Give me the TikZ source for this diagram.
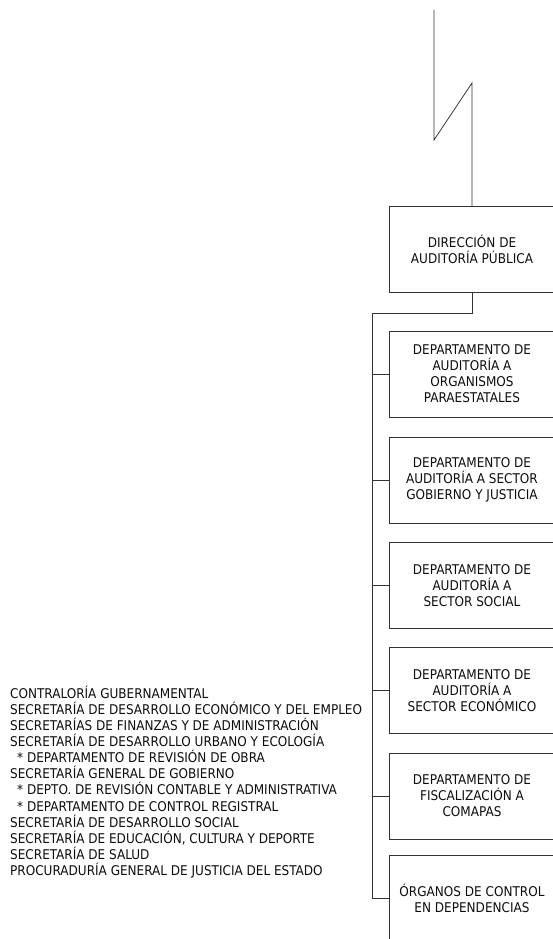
\documentclass[tikz,border=0pt]{standalone}
\usepackage{fontspec}
\setmainfont{DejaVu Sans Condensed}
\usepackage{tikz}

\begin{document}
\begin{tikzpicture}[x=1pt, y=-1pt,
    unidad/.style ={rectangle, draw=black!80, line width=0.8pt, minimum width=166pt,
      minimum height=86pt, align=center, text=black!95, inner sep=0pt,
      font=\fontsize{13.4}{16}\selectfont},
    linea/.style ={draw=black!80, line width=0.8pt}]
   \clip (0,0) rectangle (553,939);

   \node[unidad] (D) at (472,249.5) {DIRECCIÓN DE\\AUDITORÍA PÚBLICA};
   \node[unidad] (B1) at (472,374)  {DEPARTAMENTO DE\\AUDITORÍA A\\ORGANISMOS\\PARAESTATALES};
   \node[unidad] (B2) at (472,480)  {DEPARTAMENTO DE\\AUDITORÍA A SECTOR\\GOBIERNO Y JUSTICIA};
   \node[unidad] (B3) at (472,585.5)  {DEPARTAMENTO DE\\AUDITORÍA A\\SECTOR SOCIAL};
   \node[unidad] (B4) at (472,690.5)  {DEPARTAMENTO DE\\AUDITORÍA A\\SECTOR ECONÓMICO};
   \node[unidad] (B5) at (472,796)  {DEPARTAMENTO DE\\FISCALIZACIÓN A\\COMAPAS};
   \node[unidad] (B6) at (472,898)  {ÓRGANOS DE CONTROL\\EN DEPENDENCIAS};

   \node[anchor=north west, inner sep=0pt, align=left, text=black!95,
     font=\fontsize{13.4}{16.06}\selectfont] (L) at (10,686) {%
     CONTRALORÍA GUBERNAMENTAL\\
     SECRETARÍA DE DESARROLLO ECONÓMICO Y DEL EMPLEO\\
     SECRETARÍAS DE FINANZAS Y DE ADMINISTRACIÓN\\
     SECRETARÍA DE DESARROLLO URBANO Y ECOLOGÍA\\
     \hspace*{7pt}* DEPARTAMENTO DE REVISIÓN DE OBRA\\
     SECRETARÍA GENERAL DE GOBIERNO\\
     \hspace*{7pt}* DEPTO. DE REVISIÓN CONTABLE Y ADMINISTRATIVA\\
     \hspace*{7pt}* DEPARTAMENTO DE CONTROL REGISTRAL\\
     SECRETARÍA DE DESARROLLO SOCIAL\\
     SECRETARÍA DE EDUCACIÓN, CULTURA Y DEPORTE\\
     SECRETARÍA DE SALUD\\
     PROCURADURÍA GENERAL DE JUSTICIA DEL ESTADO};

   \coordinate (T) at (434,10);
   \coordinate (Z1) at (434,140);
   \coordinate (Z2) at (472,83);
   \coordinate (E) at (472,313);
   \coordinate (S) at (372,313);

   \draw[linea] (T) -- (Z1) -- (Z2) -- (D);
   \draw[linea] (D) -- (E) -- (S) |- (B6);
   \draw[linea] (S |- B1) -- (B1);
   \draw[linea] (S |- B2) -- (B2);
   \draw[linea] (S |- B3) -- (B3);
   \draw[linea] (S |- B4) -- (B4);
   \draw[linea] (S |- B5) -- (B5);
 \end{tikzpicture}
\end{document}
